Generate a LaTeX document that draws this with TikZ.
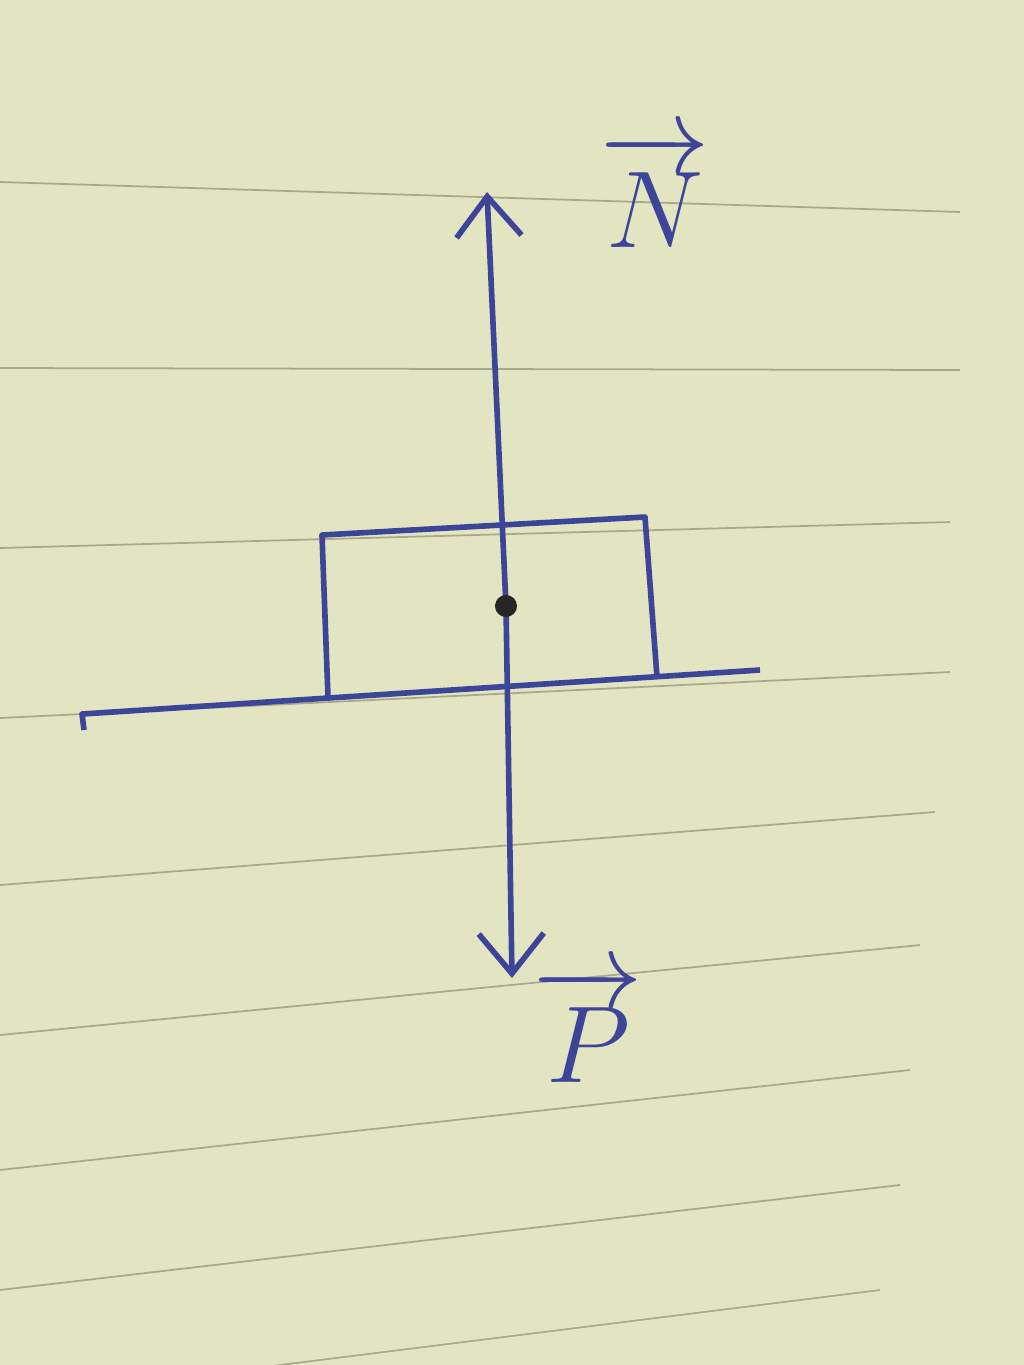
\documentclass[tikz,border=0pt]{standalone}
\usepackage{amsmath}
\usetikzlibrary{arrows.meta}

\begin{document}
\begin{tikzpicture}[>={Straight Barb[length=4mm,width=6.5mm]},x=0.01cm,y=-0.01cm]

\definecolor{paper}{rgb}{0.89,0.9,0.76}
\definecolor{rule}{rgb}{0.66,0.66,0.55}
\definecolor{ink}{rgb}{0.24,0.27,0.6}

\useasboundingbox (0,0) rectangle (1024,1365);
\fill[color=paper] (0,0) rectangle (1024,1365);

% ruled lines of the sheet
\begin{scope}
\clip (0,0) rectangle (1024,1365);
\foreach \ya/\xb/\yb in {182/960/212,368/960/370,548/950/522,718/950/672,885/935/812,1035/920/945,1170/910/1070,1290/900/1185,1400/880/1290}{
	\draw[color=rule,line width=0.5pt] (0,\ya)--(\xb,\yb);
}
\end{scope}

% support and block
\draw[color=ink,line width=1.6pt,line join=round]
	(84,730)--(82,714)--(760,670);
\draw[color=ink,line width=1.6pt,line join=round]
	(328,697)--(322,535)--(645,517)--(657,677);

\coordinate (G) at (506,606);
\coordinate (Ntip) at (487,192);
\coordinate (Ptip) at (512,978);

\draw[->,color=ink,line width=1.6pt] (G)--(Ntip);
\draw[->,color=ink,line width=1.6pt] (G)--(Ptip);
\fill[color=black!85] (G) circle (1.1mm);

\node[color=ink,font=\Huge,scale=1.25] (N) at (655,190) {$\overrightarrow{N}$};
\node[color=ink,font=\Huge,scale=1.25] (P) at (588,1025) {$\overrightarrow{P}$};

\end{tikzpicture}
\end{document}
